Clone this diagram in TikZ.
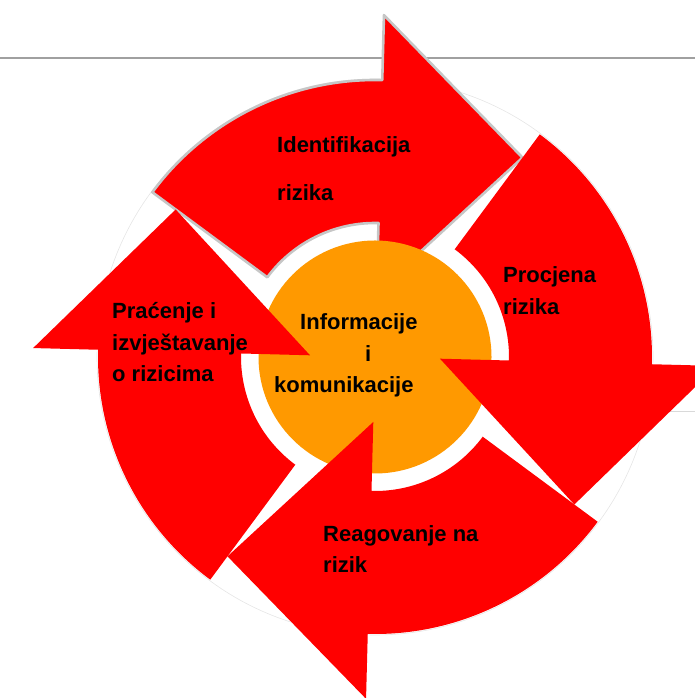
\documentclass[tikz,border=0pt]{standalone}
\usepackage{fontspec}
\setmainfont{Liberation Sans}
\definecolor{arrred}{RGB}{255,0,0}
\definecolor{infoorange}{RGB}{255,153,0}
\definecolor{rulegray}{RGB}{160,160,160}
\tikzset{
  pics/circarrow/.style={code={
    \path[pic actions] (143.5:277) arc[start angle=143.5,end angle=88.5,radius=277]
      -- (88.5:342) -- (53.5:248) -- (88.5:65) -- (88.5:134)
      arc[start angle=88.5,end angle=143.5,radius=134] -- cycle;
  }},
  lbl/.style={anchor=base west, inner sep=0pt, text=black,
    font=\fontsize{22}{26}\selectfont\bfseries},
}
\begin{document}
\begin{tikzpicture}[x=1pt,y=1pt]
\useasboundingbox (0,0) rectangle (695,698);
\coordinate (C) at (375,341);
% background lines
\draw[rulegray, line width=1.2pt] (0,640) -- (695,640);
\draw[gray!30, line width=0.8pt] (600,287) -- (695,287);
\draw[gray!20, line width=0.6pt] (C) circle[radius=278];
% top arrow (outlined, under the centre circle)
\pic[fill=arrred, draw=gray!45, line width=2.6pt, line join=round] at (C) {circarrow};
% centre circle
\node[circle, fill=infoorange, minimum size=233pt, inner sep=0pt] (info) at (C) {};
% other arrows
\pic[fill=arrred, rotate=-90] at (C) {circarrow};
\pic[fill=arrred, rotate=-180] at (C) {circarrow};
\pic[fill=arrred, rotate=-270] at (C) {circarrow};
% labels
\node[lbl] (id1) at (277,545) {Identifikacija};
\node[lbl] (id2) at (277,497) {rizika};
\node[lbl] (pr1) at (503,415) {Procjena};
\node[lbl] (pr2) at (503,383) {rizika};
\node[lbl] (pc1) at (112,379) {Praćenje i};
\node[lbl] (pc2) at (112,347) {izvještavanje};
\node[lbl] (pc3) at (112,316) {o rizicima};
\node[lbl] (in1) at (300,368) {Informacije};
\node[lbl] (in2) at (365,336) {i};
\node[lbl] (in3) at (274,305) {komunikacije};
\node[lbl] (re1) at (323,156) {Reagovanje na};
\node[lbl] (re2) at (323,125) {rizik};
\end{tikzpicture}
\end{document}
